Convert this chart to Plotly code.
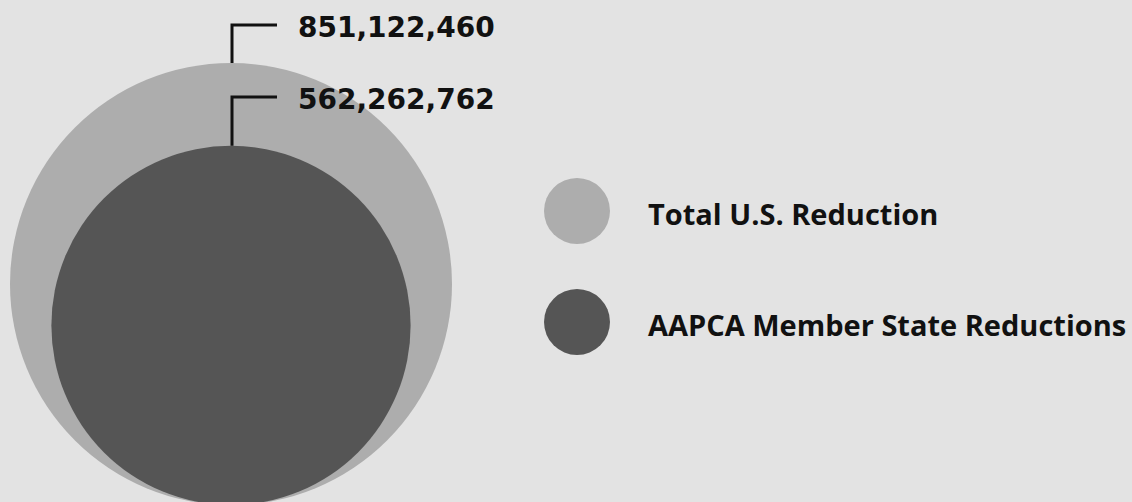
import math
import plotly.graph_objects as go

series_names = ["Total U.S. Reduction", "AAPCA Member State Reductions"]
series_values = [851122460, 562262762]
series_colors = ["#adadad", "#555555"]

W, H = 1132, 502
BG = "#e3e3e3"

# layout constants (pixel-like data space)
cx = 231
bottom = 505
r_max = 221
k = r_max / math.sqrt(max(series_values))
label_y = [25, 97]
line_end_x = 277
text_x = 296
leg_x = 577
leg_y = [211, 322]
leg_r = 33
leg_text_x = 646

fig = go.Figure()
shapes = []
annotations = []
for i, (name, v, c) in enumerate(zip(series_names, series_values, series_colors)):
    r = k * math.sqrt(v)
    cy = bottom - r
    shapes.append(dict(type="circle", xref="x", yref="y", x0=cx - r, x1=cx + r,
                       y0=cy - r, y1=cy + r, fillcolor=c, line=dict(width=0), layer="below"))
    top = cy - r
    fig.add_trace(go.Scatter(x=[cx + 1, cx + 1, line_end_x], y=[top, label_y[i], label_y[i]],
                             mode="lines", line=dict(color="#111111", width=3),
                             hoverinfo="skip", showlegend=False))
    annotations.append(dict(x=text_x, y=label_y[i] + 2, xref="x", yref="y", text=f"{v:,}",
                            showarrow=False, xanchor="left", yanchor="middle",
                            font=dict(family="DejaVu Sans", size=28, color="#111111", weight="bold")))
    # legend
    shapes.append(dict(type="circle", xref="x", yref="y", x0=leg_x - leg_r, x1=leg_x + leg_r,
                       y0=leg_y[i] - leg_r, y1=leg_y[i] + leg_r, fillcolor=c, line=dict(width=0)))
    annotations.append(dict(x=leg_text_x, y=leg_y[i] + 2, xref="x", yref="y", text=name,
                            showarrow=False, xanchor="left", yanchor="middle",
                            font=dict(family="Open Sans", size=29, color="#111111", weight="bold")))

fig.update_layout(
    width=W, height=H, margin=dict(l=0, r=0, t=0, b=0),
    paper_bgcolor=BG, plot_bgcolor=BG,
    shapes=shapes, annotations=annotations, showlegend=False,
    xaxis=dict(range=[0, W], visible=False, fixedrange=True),
    yaxis=dict(range=[H, 0], visible=False, fixedrange=True),
)
fig.write_html("out.html", config={"displayModeBar": False},
               post_script="document.body.style.margin='0';document.body.style.background='%s';" % BG)
